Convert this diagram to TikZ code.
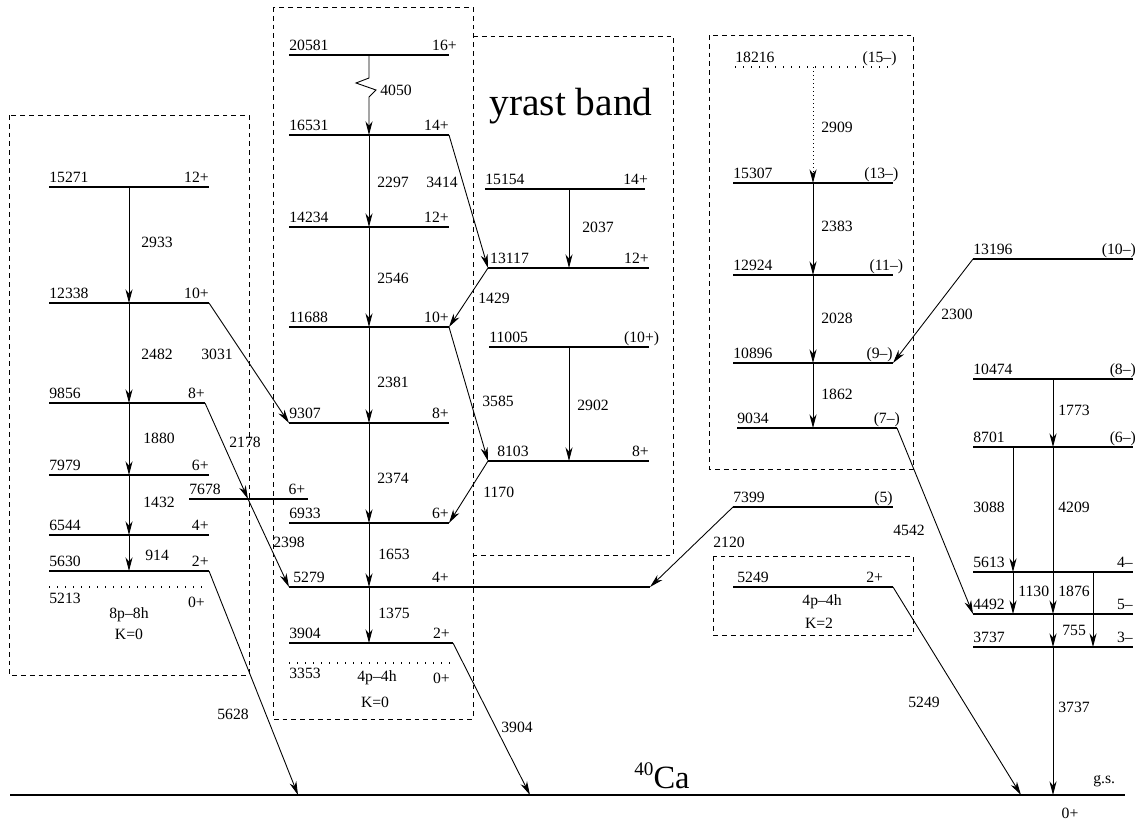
\documentclass[tikz,border=0pt]{standalone}
\usepackage{fontspec}
\setmainfont{Liberation Serif}
\usetikzlibrary{arrows.meta}
\newcommand\lev[7][lvl]{%
  \coordinate (#2-l) at (#3,#5);
  \coordinate (#2-r) at (#4,#5);
  \draw[#1] (#2-l) -- (#2-r);
  \node[elab] (#2-e) at (#2-l) {#6};
  \node[slab] (#2-s) at (#2-r) {#7};
}
\begin{document}
\begin{tikzpicture}[x=0.625pt,y=-0.625pt,
  lvl/.style={line width=0.75pt},
  bh/.style={line width=0.7pt, dash pattern=on 0.7pt off 4.3pt},
  tr/.style={line width=0.55pt,-{Stealth[length=8.5pt,width=4.4pt,inset=2.6pt]}},
  dtr/.style={tr, dash pattern=on 0.6pt off 1.9pt},
  box/.style={line width=0.55pt, dash pattern=on 3pt off 2.5pt},
  gnd/.style={line width=0.9pt},
  lab/.style={inner sep=0pt, font=\fontsize{9.8}{11}\selectfont},
  elab/.style={lab, anchor=base west, yshift=2.6pt},
  slab/.style={lab, anchor=base east, yshift=2.6pt},
  tl/.style={lab, anchor=west},
]
\useasboundingbox (0,0) rectangle (1141,821);

% dashed band boxes
\draw[box] (9,115) rectangle (249,675);
\draw[box] (273,7) rectangle (473,719);
\draw[box] (473,36) -- (673,36) -- (673,555) -- (473,555);
\draw[box] (709,35) rectangle (913,469);
\draw[box] (713,556) rectangle (913,635);

% columns for vertical transitions
\coordinate (cL) at (129,0);
\coordinate (cM) at (369,0);
\coordinate (cY) at (569,0);
\coordinate (cN) at (813,0);
\coordinate (cR1) at (1013,0);
\coordinate (cR2) at (1053,0);
\coordinate (cR3) at (1093,0);
\coordinate (c7678) at (248,0);

% ground state
\coordinate (GS-l) at (10,795);
\coordinate (GS-r) at (1125,795);
\draw[gnd] (GS-l) -- (GS-r);
\node[lab, anchor=base west] (gs) at (1093,783) {g.s.};
\node[lab] (gs0) at (1070,813) {0+};
\coordinate (g5628) at (298,795);
\coordinate (g3904) at (530,795);
\coordinate (g5249) at (1021,795);
\node[anchor=base west, inner sep=0pt] (ca) at (634,788)
  {\fontsize{20.3}{22}\selectfont\raisebox{8pt}{\fontsize{12}{13}\selectfont 40}Ca};

% 8p-8h band
\lev{L15271}{49}{209}{187}{15271}{12+}
\lev{L12338}{49}{209}{303}{12338}{10+}
\lev{L9856}{49}{205}{403}{9856}{8+}
\lev{L7979}{49}{209}{475}{7979}{6+}
\lev{L6544}{49}{209}{535}{6544}{4+}
\lev{L5630}{49}{209}{571}{5630}{2+}
\coordinate (L5213-l) at (49,587);
\coordinate (L5213-r) at (205,587);
\draw[bh] (L5213-l) -- (L5213-r);
\node[tl] (L5213-e) at (49,598) {5213};
\node[lab, anchor=east] (L5213-s) at (205,602) {0+};
\node[lab] (L8p) at (129,615) {8p–8h};
\node[lab] (LK) at (129,634) {K=0};
\lev{L7678}{189}{308}{499}{7678}{6+\hspace*{1.5pt}}

% 4p-4h K=0 band
\lev{M20581}{289}{449}{55}{20581}{16+\hspace*{-5pt}}
\lev{M16531}{289}{449}{135}{16531}{14+}
\lev{M14234}{289}{449}{227}{14234}{12+}
\lev{M11688}{289}{449}{327}{11688}{10+}
\lev{M9307}{289}{449}{423}{9307}{8+}
\lev{M6933}{289}{449}{523}{6933}{6+}
\lev{M5279}{289}{449}{587}{\hspace*{2.5pt}5279}{4+}
\coordinate (M5279-x) at (650,587);
\draw[lvl] (M5279-r) -- (M5279-x);
\lev{M3904}{289}{453}{643}{3904}{2+\hspace*{1.8pt}}
\coordinate (M3353-l) at (289,663);
\coordinate (M3353-r) at (452,663);
\draw[bh] (M3353-l) -- (M3353-r);
\node[tl] (M3353-e) at (289,673) {3353};
\node[lab, anchor=east] (M3353-s) at (450,678) {0+};
\node[lab] (M4p) at (377,678) {4p–4h};
\node[lab] (MK) at (375,702) {K=0};

% yrast band (right part)
\node[inner sep=0pt, font=\fontsize{24.6}{26}\selectfont] (yrast) at (571,106) {yrast band};
\lev{Y15154}{485}{645}{189}{15154}{14+\hspace*{-2pt}}
\lev{Y13117}{488}{649}{268}{\hspace*{1.2pt}13117}{12+}
\lev{Y11005}{489}{649}{347}{11005}{(10+)\hspace*{-6.5pt}}
\lev{Y8103}{488}{649}{461}{\hspace*{5.6pt}8103}{8+}

% negative parity band
\lev[bh]{N18216}{735}{892}{67}{18216}{(15–)\hspace*{-3pt}}
\lev{N15307}{733}{893}{183}{15307}{(13–)\hspace*{-3.5pt}}
\lev{N12924}{733}{893}{275}{12924}{(11–)\hspace*{-6.5pt}}
\lev{N10896}{733}{893}{363}{10896}{(9–)}
\lev{N9034}{737}{897}{428}{9034}{(7–)\hspace*{-2pt}}

% other levels
\lev{X7399}{733}{893}{507}{7399}{(5)}
\lev{K5249}{733}{893}{587}{\hspace*{2.5pt}5249}{2+\hspace*{6pt}}
\node[lab] (K4p) at (822,602) {4p–4h};
\node[lab] (KK) at (819,623) {K=2};

\lev{R13196}{973}{1133}{259}{13196}{(10–)\hspace*{-2pt}}
\lev{R10474}{973}{1133}{379}{10474}{(8–)\hspace*{-2pt}}
\lev{R8701}{973}{1133}{447}{8701}{(6–)\hspace*{-2pt}}
\lev{R5613}{973}{1133}{572}{5613}{4–}
\lev{R4492}{973}{1133}{614}{4492}{5–}
\lev{R3737}{973}{1133}{647}{3737}{3–}

% transitions: 8p-8h band
\draw[tr] (L15271-l -| cL) -- (L12338-l -| cL);
\node[tl] (t2933) at (141,242) {2933};
\draw[tr] (L12338-l -| cL) -- (L9856-l -| cL);
\node[tl] (t2482) at (141,354) {2482};
\draw[tr] (L9856-l -| cL) -- (L7979-l -| cL);
\node[tl] (t1880) at (143,438) {1880};
\draw[tr] (L7979-l -| cL) -- (L6544-l -| cL);
\node[tl] (t1432) at (143,502) {1432};
\draw[tr] (L6544-l -| cL) -- (L5630-l -| cL);
\node[tl] (t914) at (145,555) {914};

\draw[tr] (L12338-r) -- (M9307-l);
\node[tl] (t3031) at (201,354) {3031};
\draw[tr] (L9856-r) -- (L7678-l -| c7678);
\node[tl] (t2178) at (229,442) {2178};
\draw[tr] (L7678-l -| c7678) -- (M5279-l);
\node[tl] (t2398) at (273,542) {2398};
\draw[tr] (L5630-r) -- (g5628);
\node[tl] (t5628) at (217,714) {5628};

% transitions: 4p-4h K=0 band
\draw[tr] (M20581-l -| cM) -- ++(0,23) -- ++(-13,5) -- ++(20,7) -- ++(-7,7) -- (M16531-l -| cM);
\node[tl] (t4050) at (380,90) {4050};
\draw[tr] (M16531-l -| cM) -- (M14234-l -| cM);
\node[tl] (t2297) at (377,182) {2297};
\draw[tr] (M14234-l -| cM) -- (M11688-l -| cM);
\node[tl] (t2546) at (377,278) {2546};
\draw[tr] (M11688-l -| cM) -- (M9307-l -| cM);
\node[tl] (t2381) at (377,382) {2381};
\draw[tr] (M9307-l -| cM) -- (M6933-l -| cM);
\node[tl] (t2374) at (377,478) {2374};
\draw[tr] (M6933-l -| cM) -- (M5279-l -| cM);
\node[tl] (t1653) at (378,554) {1653};
\draw[tr] (M5279-l -| cM) -- (M3904-l -| cM);
\node[tl] (t1375) at (378,613) {1375};
\draw[tr] (M3904-r) -- (g3904);
\node[tl] (t3904) at (501,727) {3904};

\draw[tr] (M16531-r) -- (Y13117-l);
\node[tl] (t3414) at (426,182) {3414};
\draw[tr] (Y13117-l) -- (M11688-r);
\node[tl] (t1429) at (478,298) {1429};
\draw[tr] (M11688-r) -- (Y8103-l);
\node[tl] (t3585) at (482,401) {3585};
\draw[tr] (Y8103-l) -- (M6933-r);
\node[tl] (t1170) at (483,492) {1170};

% yrast band transitions
\draw[tr] (Y15154-l -| cY) -- (Y13117-l -| cY);
\node[tl] (t2037) at (582,227) {2037};
\draw[tr] (Y11005-l -| cY) -- (Y8103-l -| cY);
\node[tl] (t2902) at (577,405) {2902};

% negative parity transitions
\draw[dtr] (N18216-l -| cN) -- (N15307-l -| cN);
\node[tl] (t2909) at (821,127) {2909};
\draw[tr] (N15307-l -| cN) -- (N12924-l -| cN);
\node[tl] (t2383) at (821,226) {2383};
\draw[tr] (N12924-l -| cN) -- (N10896-l -| cN);
\node[tl] (t2028) at (821,318) {2028};
\draw[tr] (N10896-l -| cN) -- (N9034-l -| cN);
\node[tl] (t1862) at (821,394) {1862};

\draw[tr] (R13196-l) -- (N10896-r);
\node[tl] (t2300) at (941,314) {2300};
\draw[tr] (N9034-r) -- (R4492-l);
\node[tl] (t4542) at (893,530) {4542};
\draw[tr] (X7399-l) -- (M5279-x);
\node[tl] (t2120) at (713,542) {2120};
\draw[tr] (K5249-r) -- (g5249);
\node[tl] (t5249) at (908,702) {5249};

% right group
\draw[tr] (R10474-l -| cR2) -- (R8701-l -| cR2);
\node[tl] (t1773) at (1058,410) {1773};
\draw[tr] (R8701-l -| cR1) -- (R5613-l -| cR1);
\node[tl] (t3088) at (973,507) {3088};
\draw[tr] (R8701-l -| cR2) -- (R4492-l -| cR2);
\node[tl] (t4209) at (1058,507) {4209};
\draw[tr] (R5613-l -| cR1) -- (R4492-l -| cR1);
\node[tl] (t1130) at (1018,591) {1130};
\node[tl] (t1876) at (1058,591) {1876};
\draw[tr] (R5613-l -| cR3) -- (R3737-l -| cR3);
\draw[tr] (R4492-l -| cR2) -- (R3737-l -| cR2);
\node[tl] (t755) at (1062,630) {755};
\draw[tr] (R3737-l -| cR2) -- (GS-l -| cR2);
\node[tl] (t3737) at (1058,707) {3737};
\end{tikzpicture}
\end{document}
